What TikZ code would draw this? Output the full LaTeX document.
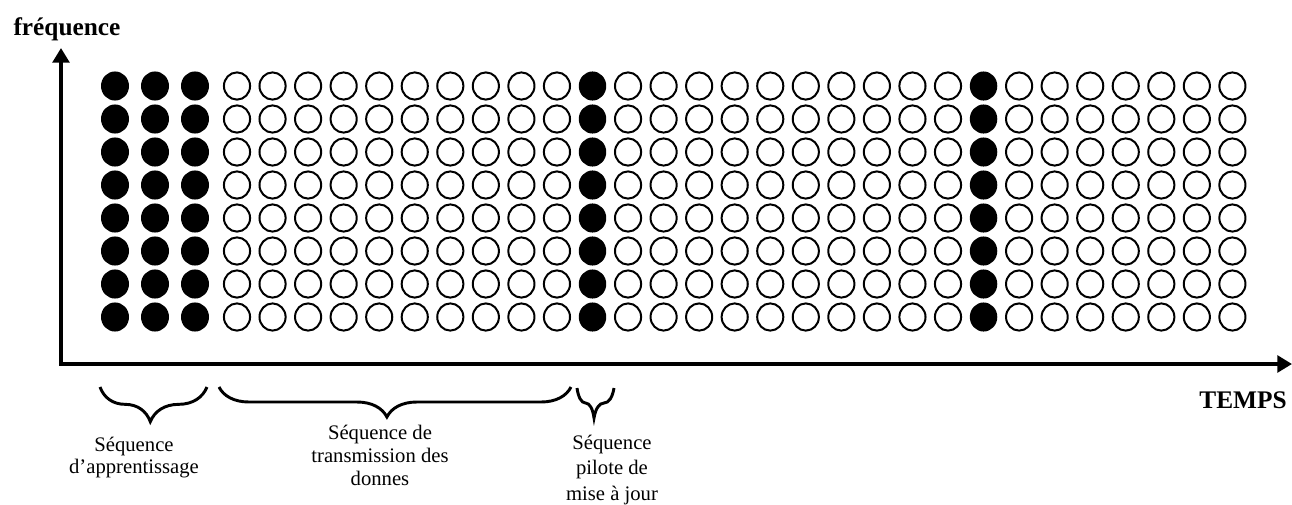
\documentclass[tikz,border=0pt]{standalone}
\usepackage{fontspec}
\setmainfont{Liberation Serif}
\usetikzlibrary{arrows.meta,decorations.pathreplacing}
\begin{document}
\begin{tikzpicture}[x=0.75pt,y=-0.75pt,
  axisline/.style={line width=3pt,line join=miter,{Triangle[length=11pt,width=12.5pt]}-{Triangle[length=11pt,width=12.5pt]}},
  fullpt/.style={fill=black},
  emptypt/.style={draw=black,line width=1.5pt},
  bracepath/.style={line width=2.2pt,decorate,decoration={brace,mirror,amplitude=#1}},
  axlabel/.style={font=\fontsize{19}{22}\selectfont\bfseries,inner sep=0pt,anchor=base},
  seqlabel/.style={font=\fontsize{15.5}{#1}\selectfont,align=center,inner sep=0pt,anchor=base}
]
\useasboundingbox (0,0) rectangle (1292,504);

% axes
\coordinate (ytop) at (61,48);
\coordinate (origin) at (61,364);
\coordinate (xend) at (1292,364);
\draw[axisline] (ytop) -- (origin) -- (xend);

\node[axlabel] (freq) at (67,35) {fréquence};
\node[axlabel] (temps) at (1243,408) {TEMPS};

% learning sequence (filled)
\foreach \c in {115,155,195}
  \foreach \r in {0,...,7}
    \fill[fullpt] (\c,{86+33*\r}) ellipse [x radius=10.5pt,y radius=10.9pt];

% data and pilot columns
\foreach \k in {0,...,9,11,12,...,20,22,23,...,28}
  \foreach \r in {0,...,7}
    \draw[emptypt] ({237+35.55*\k},{86+33*\r}) ellipse [x radius=9.8pt,y radius=10.2pt];
\foreach \k in {10,21}
  \foreach \r in {0,...,7}
    \fill[fullpt] ({237+35.55*\k},{86+33*\r}) ellipse [x radius=10.3pt,y radius=10.9pt];

% braces
\coordinate (b1a) at (100,387); \coordinate (b1b) at (207,387);
\coordinate (b2a) at (219,387); \coordinate (b2b) at (571,387);
\coordinate (b3a) at (577,388); \coordinate (b3b) at (614,388);
\draw[bracepath=26pt,decoration={aspect=0.47}] (b1a) -- (b1b);
\draw[bracepath=22.5pt,decoration={aspect=0.477}] (b2a) -- (b2b);
\draw[bracepath=22.5pt,decoration={aspect=0.46}] (b3a) -- (b3b);

% labels (anchor base = baseline of last line)
\node[seqlabel=16.5pt] (lab1) at (134,473) {Séquence\\d’apprentissage};
\node[seqlabel=17pt] (lab2) at (380,485) {Séquence de\\transmission des\\donnes};
\node[seqlabel=18.8pt] (lab3) at (612,500) {Séquence\\pilote de\\mise à jour};
\end{tikzpicture}
\end{document}
